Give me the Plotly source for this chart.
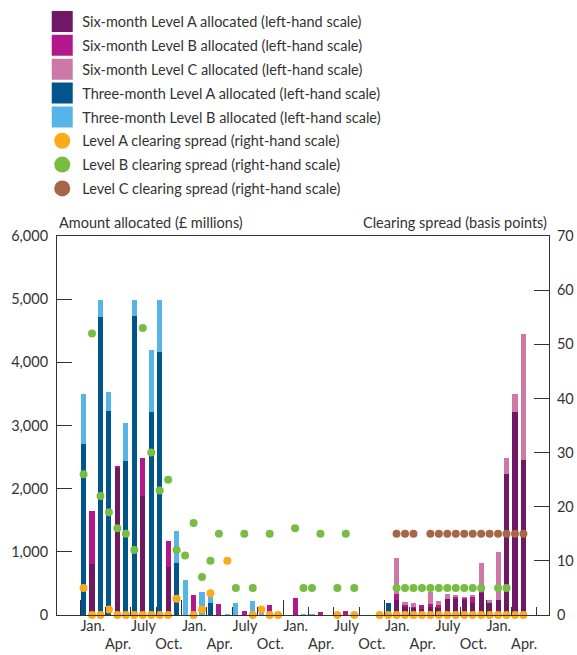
import plotly.graph_objects as go

# --- data: one entry per monthly operation (53 months, Jan. year 1 -> Apr. year 5) ---
months = list(range(53))

six_a = [0, 800, 0, 0, 2330, 0, 0, 1880, 0, 0, 760, 0,
         0, 0, 0, 0, 0, 0, 0, 0, 0, 0, 0, 0,
         0, 0, 0, 0, 0, 0, 0, 0, 0, 0, 0, 0,
         0, 240, 140, 115, 90, 125, 125, 250, 250, 235, 195, 355,
         205, 235, 2230, 3220, 2455]
six_b = [0, 850, 0, 0, 30, 0, 0, 610, 0, 0, 410, 0,
         0, 320, 0, 0, 180, 0, 0, 65, 0, 0, 160, 0,
         0, 265, 0, 0, 50, 0, 0, 65, 0, 0, 0, 0,
         0, 100, 25, 15, 70, 55, 30, 0, 45, 35, 90, 105,
         0, 0, 0, 0, 0]
six_c = [0, 0, 0, 0, 0, 0, 0, 0, 0, 0, 0, 0,
         0, 0, 0, 0, 0, 0, 0, 0, 0, 0, 0, 0,
         0, 0, 0, 0, 0, 0, 0, 0, 0, 0, 0, 0,
         0, 570, 40, 60, 0, 190, 65, 90, 10, 10, 30, 370,
         30, 765, 250, 280, 1990]
three_a = [2700, 0, 4720, 3230, 0, 2440, 4730, 0, 3220, 4160, 0, 820,
           0, 0, 0, 195, 0, 0, 0, 0, 0, 0, 0, 0,
           0, 0, 0, 0, 0, 0, 0, 0, 0, 0, 0, 0,
           190, 0, 0, 0, 0, 0, 0, 0, 0, 0, 0, 0,
           0, 0, 0, 0, 0]
three_b = [800, 0, 270, 300, 0, 600, 255, 0, 970, 825, 0, 510,
           550, 0, 365, 170, 0, 15, 190, 0, 220, 20, 0, 0,
           0, 0, 10, 10, 0, 0, 0, 0, 0, 0, 0, 0,
           0, 0, 0, 0, 0, 0, 0, 0, 0, 0, 0, 0,
           0, 0, 0, 0, 0]

spread_a = [5, 0, 0, 1, 0, 0, 0, 0, 0, 0, 0, 3,
            None, 0, 1, 4, None, 10, None, None, 0, 1, 0, 0,
            None, None, None, None, None, None, 0, None, 0, None, None, 0,
            0, 0, 0, 0, 0, 0, 0, 0, 0, 0, 0, 0,
            0, 0, 0, 0, 0]
spread_b = [26, 52, 22, 19, 16, 15, 12, 53, 30, 23, 25, 12,
            11, 17, 7, 10, 15, None, 5, 15, 5, None, 15, None,
            None, 16, 5, 5, 15, None, 5, 15, 5, None, None, None,
            None, 5, 5, 5, 5, 5, 5, 5, 5, 5, 5, 5,
            None, 5, 5, None, None]
spread_c = [None] * 37 + [15, 15, 15, None, 15, 15, 15, 15, 15, 15, 15,
                          15, 15, 15, 15, 15]

quarter_labels = ["Jan.", "Apr.", "July", "Oct."] * 4 + ["Jan.", "Apr."]

PURPLE = "#701864"
MAGENTA = "#B2188C"
PINK = "#CC79A7"
NAVY = "#00558C"
SKY = "#56B4E6"
YELLOW = "#FBAA19"
GREEN = "#77BD43"
BROWN = "#A66748"
TEXT = "#333333"
FONT = "Lato, 'Open Sans', sans-serif"
FSIZE = 14.5

# operations fall roughly mid-month
x_pos = [m + 0.42 for m in months]
x_range = [-2.72, 55.44]
quarter_pos = [1.5 + 3 * k for k in range(len(quarter_labels))]
# Apr./Oct. labels sit on a second row
quarter_text = [t if t in ("Jan.", "July") else "<br>" + t for t in quarter_labels]

bar_series = [
    (six_a, "Six-month Level A allocated (left-hand scale)", PURPLE),
    (six_b, "Six-month Level B allocated (left-hand scale)", MAGENTA),
    (six_c, "Six-month Level C allocated (left-hand scale)", PINK),
    (three_a, "Three-month Level A allocated (left-hand scale)", NAVY),
    (three_b, "Three-month Level B allocated (left-hand scale)", SKY),
]
dot_series = [
    (spread_a, "Level A clearing spread (right-hand scale)", YELLOW),
    (spread_b, "Level B clearing spread (right-hand scale)", GREEN),
    (spread_c, "Level C clearing spread (right-hand scale)", BROWN),
]

fig = go.Figure()

for vals, name, col in bar_series:
    fig.add_trace(go.Bar(
        x=x_pos, y=vals, width=0.6, name=name,
        marker=dict(color=col, line_width=0),
        showlegend=False,
    ))

for vals, name, col in dot_series:
    fig.add_trace(go.Scatter(
        x=x_pos, y=vals, mode="markers", name=name,
        xaxis="x2", yaxis="y2",
        marker=dict(color=col, size=8, line_width=0),
        cliponaxis=False, showlegend=False,
    ))

# legend entries (bigger swatches than the marks themselves)
for vals, name, col in bar_series:
    fig.add_trace(go.Scatter(
        x=[None], y=[None], mode="markers", name=name, legendgroup=name,
        marker=dict(symbol="square", size=16, color=col,
                    line=dict(color=col, width=5)),
    ))
for vals, name, col in dot_series:
    fig.add_trace(go.Scatter(
        x=[None], y=[None], mode="markers", name=name, legendgroup=name,
        marker=dict(symbol="circle", size=16, color=col, line_width=0),
    ))

fig.update_layout(
    width=577, height=655,
    margin=dict(l=57, r=28, t=236, b=40, autoexpand=False),
    plot_bgcolor="white", paper_bgcolor="white",
    barmode="stack", bargap=0,
    font=dict(family=FONT, size=FSIZE, color=TEXT),
    legend=dict(x=-0.03, y=1.608, xanchor="left", yanchor="top",
                tracegroupgap=2, itemsizing="trace",
                font=dict(family=FONT, size=FSIZE, color=TEXT),
                bgcolor="rgba(0,0,0,0)"),
    xaxis=dict(range=x_range, tickmode="linear", tick0=0, dtick=12,
               ticks="inside", ticklen=15, tickwidth=1, tickcolor=TEXT,
               showticklabels=False, showline=True, linecolor=TEXT,
               linewidth=1, mirror=True, showgrid=False, zeroline=False,
               minor=dict(tickmode="linear", tick0=0, dtick=3,
                          ticks="inside", ticklen=8, tickcolor=TEXT)),
    xaxis2=dict(overlaying="x", anchor="y", side="bottom", range=x_range,
                tickmode="array", tickvals=quarter_pos, ticktext=quarter_text,
                tickangle=0, ticks="", showline=False, showgrid=False,
                zeroline=False),
    yaxis=dict(range=[0, 6000], tickmode="linear", tick0=0, dtick=1000,
               tickformat=",", ticks="inside", ticklen=15, tickcolor=TEXT,
               ticklabelstandoff=5,
               showline=True, linecolor=TEXT, linewidth=1,
               showgrid=False, zeroline=False),
    yaxis2=dict(overlaying="y", anchor="x2", side="right", range=[0, 70],
                tickmode="linear", tick0=0, dtick=10,
                ticks="inside", ticklen=15, tickcolor=TEXT,
                ticklabelstandoff=4,
                showline=True, linecolor=TEXT, linewidth=1,
                showgrid=False, zeroline=False),
)

fig.add_annotation(text="Amount allocated (£ millions)", xref="paper", yref="paper",
                   x=0, y=1, xanchor="left", yanchor="bottom", yshift=3,
                   showarrow=False, font=dict(family=FONT, size=FSIZE, color=TEXT))
fig.add_annotation(text="Clearing spread (basis points)", xref="paper", yref="paper",
                   x=1, y=1, xanchor="right", yanchor="bottom", yshift=3,
                   showarrow=False, font=dict(family=FONT, size=FSIZE, color=TEXT))

# drop the browser's default page margin so the figure sits at (0, 0)
fig.write_html("out.html", config={"displayModeBar": False},
               post_script="document.body.style.margin='0';")
